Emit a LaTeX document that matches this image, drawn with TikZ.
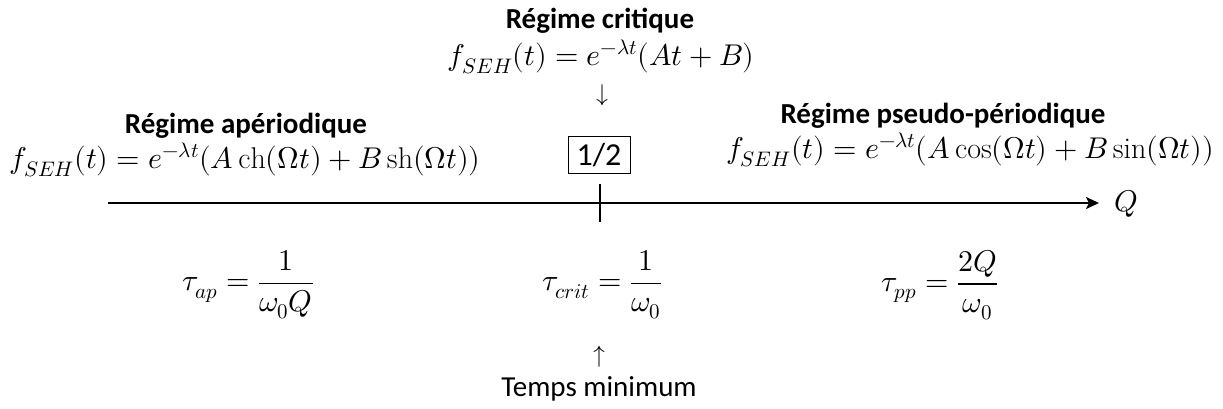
\documentclass[tikz,border=0pt]{standalone}
\usepackage{amsmath}
\usepackage{fontspec}
\usepackage{unicode-math}
\setmainfont{Carlito}
\setmathfont{Latin Modern Math}
\setmathrm{Latin Modern Roman}
\usetikzlibrary{arrows.meta}
\tikzset{
  title/.style={font=\fontsize{29}{34}\selectfont\bfseries, inner sep=0pt, anchor=center},
  formula/.style={font=\fontsize{30}{34}\selectfont, inner sep=0pt, anchor=center},
  plain/.style={font=\fontsize{29}{34}\selectfont, inner sep=0pt, anchor=center},
  arr/.style={font=\fontsize{24}{28}\selectfont, inner sep=0pt, anchor=center},
  axisline/.style={line width=2.2pt, -{Stealth[length=13pt,width=12pt,inset=3pt]}},
}
\begin{document}
\begin{tikzpicture}[x=1pt,y=-1pt]
\useasboundingbox (0,0) rectangle (1223,409);
% titles and formulas above
\node[title] (tcrit) at (600,21) {Régime critique};
\node[formula] (fcrit) at (601,57) {$f_{SEH}(t)=e^{-\lambda t}(At+B)$};
\node[arr] (down) at (602,95) {$\downarrow$};
\node[title] (tap) at (246,126) {Régime apériodique};
\node[formula] (fap) at (245,160) {$f_{SEH}(t)=e^{-\lambda t}(A\,\mathrm{ch}(\Omega t)+B\,\mathrm{sh}(\Omega t))$};
\node[title] (tpp) at (943,116) {Régime pseudo-périodique};
\node[formula] (fpp) at (970,150) {$f_{SEH}(t)=e^{-\lambda t}(A\cos(\Omega t)+B\sin(\Omega t))$};
\node[plain, font=\fontsize{32}{36}\selectfont, draw, line width=0.8pt, minimum width=62pt, minimum height=37pt] (half) at (599,155) {1/2};
% axis
\coordinate (a0) at (108,203);
\coordinate (a1) at (1099,203);
\draw[axisline] (a0) -- (a1);
\node[formula, anchor=west] (Q) at (1114,204) {$Q$};
\coordinate (t0) at (600,184);
\coordinate (t1) at (600,222);
\draw[line width=1.8pt] (t0) -- (t1);
% tau formulas
\node[formula] (tauap) at (248,285) {$\tau_{ap}=\dfrac{1}{\omega_0 Q}$};
\node[formula] (taucrit) at (602,285) {$\tau_{crit}=\dfrac{1}{\omega_0}$};
\node[formula] (taupp) at (940,285) {$\tau_{pp}=\dfrac{2Q}{\omega_0}$};
\node[arr] (up) at (599,357) {$\uparrow$};
\node[plain] (tmin) at (599,389) {Temps minimum};
\end{tikzpicture}
\end{document}
